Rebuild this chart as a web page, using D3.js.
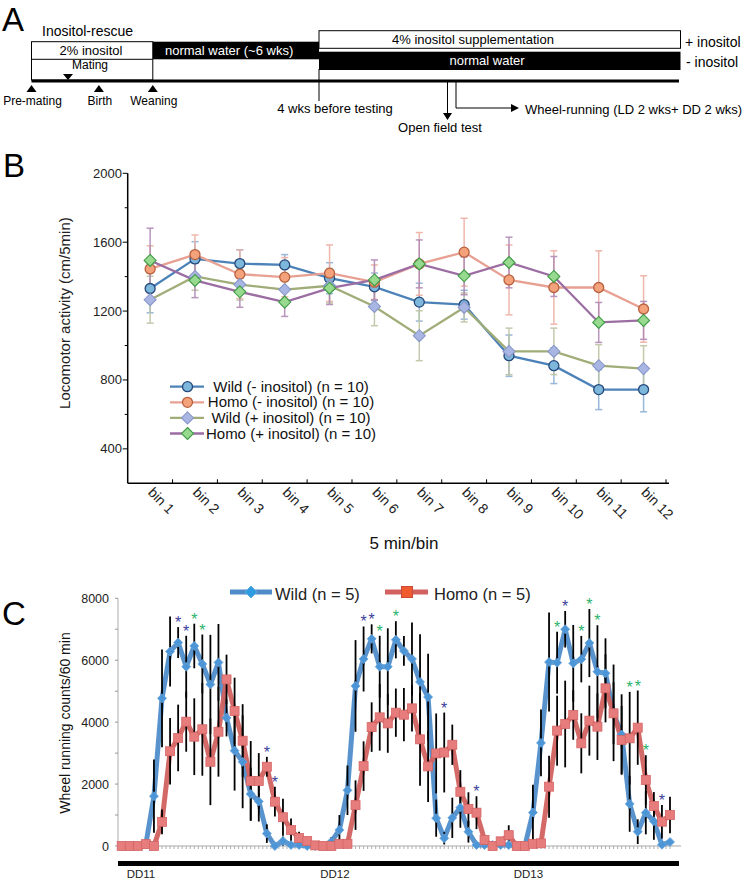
<!DOCTYPE html>
<html><head><meta charset="utf-8">
<script src="https://cdnjs.cloudflare.com/ajax/libs/d3/7.8.5/d3.min.js"></script>
<style>body{margin:0;background:#fff}svg{display:block;font-family:"Liberation Sans",Arial,sans-serif}</style>
</head><body>
<script>
// ---------- Panel B data ----------
const bins = ["bin 1","bin 2","bin 3","bin 4","bin 5","bin 6","bin 7","bin 8","bin 9","bin 10","bin 11","bin 12"];
const wildMinus    = [1331,1503,1476,1468,1391,1341,1252,1237,941,883,744,744];
const wildMinusErr = [141,100,80,60,90,80,110,84,120,104,116,129];
const homoMinus    = [1445,1528,1414,1397,1420,1368,1474,1542,1381,1337,1337,1212];
const homoMinusErr = [134,114,141,114,164,100,182,197,203,213,213,193];
const wildPlus     = [1266,1401,1354,1325,1347,1227,1057,1221,966,966,883,866];
const wildPlusErr  = [136,80,90,90,100,112,145,84,135,135,122,133];
const homoPlus     = [1494,1378,1312,1252,1333,1381,1474,1405,1482,1401,1134,1146];
const homoPlusErr  = [187,100,90,83,95,116,139,110,147,116,116,110];
const bTicks = [400,800,1200,1600,2000];

// ---------- Panel C data (hourly, DD11 start .. ) ----------
const wildRun = [0,0,0,60,1610,4770,6280,6570,5790,6460,5880,5220,5930,4140,3080,2720,1680,1440,400,0,
  160,30,30,0,0,0,140,520,1800,5170,6040,6690,5790,5790,6660,6300,6040,5300,4810,900,
  250,910,1240,460,30,30,30,30,30,0,0,1080,3330,5940,5920,7000,5900,6035,6555,5630,
  5577,4300,3600,1360,463,1076,800,40,130];
const wildRunErr = [0,0,0,60,1180,1580,1130,500,1000,720,950,1600,1240,600,1290,1500,850,650,300,0,
  150,50,50,0,0,0,150,480,800,1480,1050,470,1000,1240,600,480,1180,1540,1400,600,
  200,650,650,350,50,50,50,50,50,0,0,900,1076,1600,1000,590,1240,750,1100,1500,
  1130,1560,1300,900,400,700,600,50,100];
const homoRun = [0,0,0,60,0,780,3060,3490,4015,3530,3770,2720,3690,5380,4360,3400,2100,2100,2560,1430,
  930,520,260,160,20,0,0,70,70,1320,2580,3840,4155,3960,4306,4240,4446,3445,2570,2990,
  3020,3270,1750,1195,1076,194,0,150,350,0,0,70,86,1916,3725,3940,4231,3316,4048,3855,
  5093,4285,3424,3478,3822,2132,1292,786,1001];
const homoRunErr = [0,0,0,50,0,400,1076,1076,970,1240,1500,1400,1450,800,1076,1180,1290,900,320,480,
  600,370,200,100,30,0,0,50,50,800,800,800,1076,950,780,860,750,1500,1150,1290,
  1290,650,700,540,530,100,0,100,320,0,0,50,100,1000,1130,1400,800,970,1130,1076,
  1100,1000,1100,1500,1200,800,450,540,590];
const days = ["DD11","DD12","DD13"];
const dayStart = [0,24,48];
const cTicks = [0,2000,4000,6000,8000];
// significance marks: [hour index, colour group]
const stars = [[7,"b"],[8,"b"],[9,"g"],[10,"g"],[18,"b"],[19,"b"],
  [30,"b"],[31,"b"],[32,"g"],[34,"g"],[40,"b"],[44,"b"],
  [54,"g"],[55,"b"],[57,"g"],[58,"g"],[59,"g"],[63,"g"],[64,"g"],[65,"g"],[67,"b"]];

const svg = d3.select("body").append("svg").attr("width",745).attr("height",882);

// ================= Panel A =================
const A = svg.append("g");
A.append("text").attr("x",2).attr("y",31).attr("font-size",33).text("A");
A.append("text").attr("x",42).attr("y",36).attr("font-size",14).text("Inositol-rescue");
A.append("rect").attr("x",31.5).attr("y",41.7).attr("width",121.3).attr("height",38.3).attr("fill","#fff").attr("stroke","#000").attr("stroke-width",1);
A.append("line").attr("x1",31.5).attr("x2",152.8).attr("y1",59.3).attr("y2",59.3).attr("stroke","#000");
A.append("text").attr("x",91).attr("y",55).attr("text-anchor","middle").attr("font-size",13).text("2% inositol");
A.append("text").attr("x",72).attr("y",69).attr("font-size",12).text("Mating");
A.append("path").attr("d","M63,74 L73,74 L68,80 Z").attr("fill","#000");
A.append("rect").attr("x",152.8).attr("y",41.7).attr("width",166.2).attr("height",17.6).attr("fill","#000");
A.append("text").attr("x",165).attr("y",55).attr("font-size",13).attr("fill","#fff").text("normal water (~6 wks)");
A.append("rect").attr("x",319).attr("y",30.7).attr("width",361.5).attr("height",17.6).attr("fill","#fff").attr("stroke","#000");
A.append("text").attr("x",473).attr("y",44).attr("text-anchor","middle").attr("font-size",13).text("4% inositol supplementation");
A.append("rect").attr("x",319).attr("y",51.7).attr("width",361.5).attr("height",18.3).attr("fill","#000");
A.append("text").attr("x",487).attr("y",65).attr("text-anchor","middle").attr("font-size",13).attr("fill","#fff").text("normal water");
A.append("text").attr("x",685).attr("y",47).attr("font-size",14).text("+ inositol");
A.append("text").attr("x",686).attr("y",67).attr("font-size",14).text("- inositol");
A.append("line").attr("x1",31.5).attr("x2",679).attr("y1",81).attr("y2",81).attr("stroke","#000").attr("stroke-width",3);
A.append("line").attr("x1",319).attr("x2",319).attr("y1",69).attr("y2",101).attr("stroke","#000").attr("stroke-width",1);
[[31.5,"Pre-mating"],[98.9,"Birth"],[152.8,"Weaning"]].forEach(([x,t])=>{
  A.append("path").attr("d",`M${x-5},92 L${x+5},92 L${x},85 Z`).attr("fill","#000");
  A.append("text").attr("x",x+1).attr("y",105).attr("text-anchor","middle").attr("font-size",12).text(t);
});
A.append("text").attr("x",335).attr("y",113).attr("text-anchor","middle").attr("font-size",13).text("4 wks before testing");
A.append("line").attr("x1",447.5).attr("x2",447.5).attr("y1",82).attr("y2",114).attr("stroke","#000");
A.append("path").attr("d","M443,113 L452,113 L447.5,120 Z").attr("fill","#000");
A.append("path").attr("d","M456,82 L456,108 L512,108").attr("fill","none").attr("stroke","#000");
A.append("path").attr("d","M511,104 L519,108 L511,112 Z").attr("fill","#000");
A.append("text").attr("x",525).attr("y",114).attr("font-size",13).text("Wheel-running (LD 2 wks+ DD 2 wks)");
A.append("text").attr("x",440).attr("y",132).attr("text-anchor","middle").attr("font-size",13).text("Open field test");

// ================= Panel B =================
const B = svg.append("g");
B.append("text").attr("x",3).attr("y",177).attr("font-size",33).text("B");
const xb = d3.scaleBand().domain(bins).range([127.7,666]);
const yb = d3.scaleLinear().domain([200,2000]).range([483.3,173.3]);
const xc = d => xb(d)+xb.bandwidth()/2;
// axes
B.append("line").attr("x1",127.7).attr("x2",127.7).attr("y1",yb(2000)).attr("y2",yb(200)).attr("stroke","#000").attr("stroke-width",1.5);
B.append("line").attr("x1",127.7).attr("x2",669).attr("y1",yb(200)).attr("y2",yb(200)).attr("stroke","#000").attr("stroke-width",1.5);
d3.range(400,2001,200).forEach(v=>{
  const major = bTicks.includes(v);
  B.append("line").attr("x1",127.7-(major?5:3)).attr("x2",127.7).attr("y1",yb(v)).attr("y2",yb(v)).attr("stroke","#000");
});
bTicks.forEach(v=>B.append("text").attr("x",122).attr("y",yb(v)+4.5).attr("text-anchor","end").attr("font-size",13).attr("fill","#222").text(v));
bins.forEach((b,i)=>{
  B.append("line").attr("x1",xb(b)+xb.bandwidth()).attr("x2",xb(b)+xb.bandwidth()).attr("y1",yb(200)).attr("y2",yb(200)-4).attr("stroke","#000");
  B.append("text").attr("transform",`translate(${xc(b)-3},${yb(200)+10}) rotate(45)`).attr("font-size",14).attr("fill","#222").text(b);
});
B.append("text").attr("transform",`translate(70,${(yb(2000)+yb(400))/2+2}) rotate(-90)`).attr("text-anchor","middle").attr("font-size",15).attr("fill","#222").text("Locomotor activity (cm/5min)");
B.append("text").attr("x",404).attr("y",549).attr("text-anchor","middle").attr("font-size",17).attr("fill","#111").text("5 min/bin");

const diamond = r => `M0,${-r} L${r},0 L0,${r} L${-r},0 Z`;
const seriesB = [
  {name:"Wild (- inositol) (n = 10)", v:wildMinus, e:wildMinusErr, line:"#4d82b8", err:"#8fb0d4", fill:"#7db7db", stroke:"#25487a", shape:"circle"},
  {name:"Homo (- inositol) (n = 10)", v:homoMinus, e:homoMinusErr, line:"#e8a093", err:"#eeb0a4", fill:"#f3a27c", stroke:"#b8603e", shape:"circle"},
  {name:"Wild (+ inositol) (n = 10)", v:wildPlus, e:wildPlusErr, line:"#a0ad78", err:"#bdc5a4", fill:"#a9b6e4", stroke:"#8a98c8", shape:"diamond"},
  {name:"Homo (+ inositol) (n = 10)", v:homoPlus, e:homoPlusErr, line:"#9b6da3", err:"#b08ab6", fill:"#97d98f", stroke:"#3e9a45", shape:"diamond"}
];
// error bars
seriesB.forEach(s=>{
  const g = B.append("g").attr("stroke",s.err).attr("stroke-width",1.5).attr("opacity",0.9);
  bins.forEach((b,i)=>{
    const x = xc(b), y1 = yb(s.v[i]+s.e[i]), y2 = yb(s.v[i]-s.e[i]);
    g.append("line").attr("x1",x).attr("x2",x).attr("y1",y1).attr("y2",y2);
    g.append("line").attr("x1",x-3.5).attr("x2",x+3.5).attr("y1",y1).attr("y2",y1);
    g.append("line").attr("x1",x-3.5).attr("x2",x+3.5).attr("y1",y2).attr("y2",y2);
  });
});
const lineB = d3.line().x((d,i)=>xc(bins[i])).y(d=>yb(d));
seriesB.forEach(s=>{
  B.append("path").attr("d",lineB(s.v)).attr("fill","none").attr("stroke",s.line).attr("stroke-width",2.3);
});
function markerB(g,s,x,y){
  if(s.shape==="circle") g.append("circle").attr("cx",x).attr("cy",y).attr("r",5).attr("fill",s.fill).attr("stroke",s.stroke).attr("stroke-width",1.3);
  else g.append("path").attr("d",diamond(6)).attr("transform",`translate(${x},${y})`).attr("fill",s.fill).attr("stroke",s.stroke).attr("stroke-width",1.1);
}
seriesB.forEach(s=>{ bins.forEach((b,i)=>markerB(B,s,xc(b),yb(s.v[i]))); });
// legend
seriesB.forEach((s,i)=>{
  const y = 386.7 + i*15.6;
  B.append("line").attr("x1",170).attr("x2",204).attr("y1",y).attr("y2",y).attr("stroke",s.line).attr("stroke-width",2.3);
  markerB(B,s,187.5,y);
  B.append("text").attr("x",291).attr("y",y+5).attr("text-anchor","middle").attr("font-size",15).attr("fill","#111").text(s.name);
});

// ================= Panel C =================
const C = svg.append("g");
C.append("text").attr("x",2).attr("y",625).attr("font-size",33).text("C");
const x = d3.scaleLinear().domain([0,68]).range([121.7,670]);
const y = d3.scaleLinear().domain([0,8000]).range([846,598.3]);
C.append("line").attr("x1",118).attr("x2",118).attr("y1",y(8000)).attr("y2",y(0)).attr("stroke","#aaa").attr("stroke-width",1);
d3.range(0,8001,1000).forEach(v=>C.append("line").attr("x1",115).attr("x2",118).attr("y1",y(v)).attr("y2",y(v)).attr("stroke","#999"));
cTicks.forEach(v=>C.append("text").attr("x",109).attr("y",y(v)+4.5).attr("text-anchor","end").attr("font-size",12.5).attr("fill","#222").text(v));
C.append("line").attr("x1",118).attr("x2",681).attr("y1",y(0)).attr("y2",y(0)).attr("stroke","#aaa").attr("stroke-width",1.2);
d3.range(0,68.01,0.5).forEach(i=>C.append("line").attr("x1",x(i)).attr("x2",x(i)).attr("y1",y(0)).attr("y2",y(0)+3).attr("stroke","#b0b0b0"));
C.append("rect").attr("x",118).attr("y",861).attr("width",561).attr("height",5).attr("fill","#000");
days.forEach((d,i)=>C.append("text").attr("x",x(dayStart[i])+5).attr("y",878).attr("font-size",11.5).attr("fill","#222").text(d));
C.append("text").attr("transform","translate(70,723) rotate(-90)").attr("text-anchor","middle").attr("font-size",14).attr("fill","#111").text("Wheel running counts/60 min");

const blue="#4f8dca", red="#d2625f";
const lineC = d3.line().x((d,i)=>x(i)).y(d=>y(d));
C.append("path").attr("d",lineC(wildRun)).attr("fill","none").attr("stroke",blue).attr("stroke-width",5).attr("stroke-linejoin","round").attr("opacity",0.95);
C.append("path").attr("d",lineC(homoRun)).attr("fill","none").attr("stroke",red).attr("stroke-width",5).attr("stroke-linejoin","round").attr("opacity",0.95);
// error bars (black)
const eg = C.append("g").attr("stroke","#000").attr("stroke-width",1.8);
[[wildRun,wildRunErr],[homoRun,homoRunErr]].forEach(([v,e])=>{
  v.forEach((d,i)=>{ if(e[i]>0) eg.append("line").attr("x1",x(i)).attr("x2",x(i)).attr("y1",y(d+e[i])).attr("y2",y(Math.max(0,d-e[i]))); });
});
wildRun.forEach((d,i)=>C.append("path").attr("d",diamond(4.5)).attr("transform",`translate(${x(i)},${y(d)})`).attr("fill","#4c95d6").attr("stroke","#6aa6dc").attr("stroke-width",0.8));
homoRun.forEach((d,i)=>C.append("rect").attr("x",x(i)-4.5).attr("y",y(d)-4.5).attr("width",9).attr("height",9).attr("fill","#e67c7c").attr("stroke","#d56565").attr("stroke-width",0.8));
// stars
stars.forEach(([i,g])=>{
  const top = Math.max(wildRun[i]+wildRunErr[i], homoRun[i]+homoRunErr[i]);
  C.append("text").attr("x",x(i)).attr("y",y(top)-7+8).attr("text-anchor","middle").attr("font-size",16)
   .attr("fill",g==="b"?"#3c3f9a":"#2bb36b").text("*");
});
// legend
C.append("line").attr("x1",230).attr("x2",272).attr("y1",592).attr("y2",592).attr("stroke",blue).attr("stroke-width",5);
C.append("path").attr("d",diamond(6)).attr("transform","translate(251,592)").attr("fill","#2f9be0").attr("stroke","#5aa8e0");
C.append("text").attr("x",275).attr("y",600).attr("font-size",16.5).attr("fill","#222").text("Wild (n = 5)");
C.append("line").attr("x1",385).attr("x2",428).attr("y1",592).attr("y2",592).attr("stroke",red).attr("stroke-width",5);
C.append("rect").attr("x",401.5).attr("y",586.5).attr("width",11).attr("height",11).attr("fill","#ef5a2e").attr("stroke","#c84a3a");
C.append("text").attr("x",434).attr("y",600).attr("font-size",16.5).attr("fill","#222").text("Homo (n = 5)");
</script>
</body></html>
